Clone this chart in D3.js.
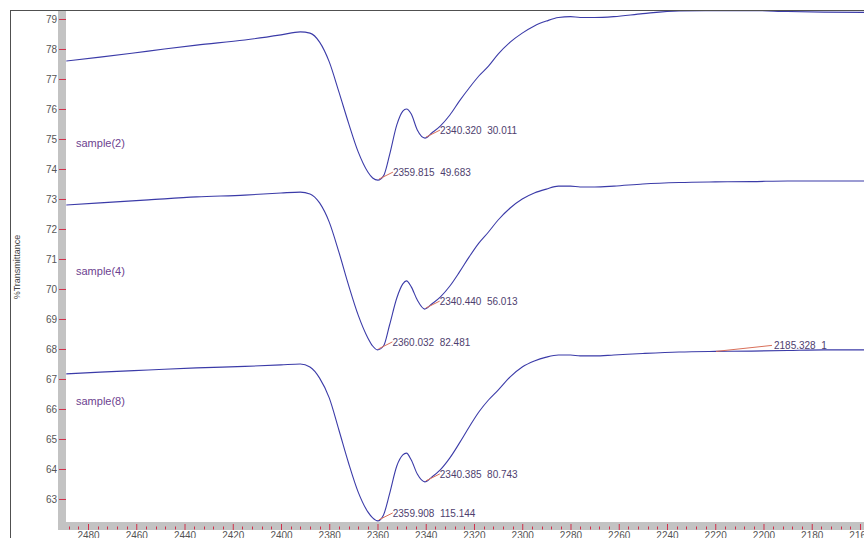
<!DOCTYPE html>
<html>
<head>
<meta charset="utf-8">
<script src="https://cdn.jsdelivr.net/npm/d3@7/dist/d3.min.js"></script>
<style>
  html, body { margin: 0; padding: 0; background: #fff; }
  svg { display: block; font-family: "Liberation Sans", Arial, sans-serif; }
  .note { white-space: pre; }
</style>
</head>
<body>
<svg id="chart" width="864" height="538"></svg>
<script>
// Wavenumber grid (cm-1) shared by the three spectra
const wavenumbers = [2489, 2475, 2455, 2435, 2415, 2400, 2392, 2388, 2384, 2380, 2376, 2372, 2368, 2364, 2362,
  2357.5, 2355, 2352, 2349.5, 2348, 2346, 2343.5,
  2337.5, 2334, 2330, 2326, 2322, 2318, 2314, 2310, 2305, 2300, 2295, 2290, 2285, 2280, 2276, 2270, 2262,
  2250, 2235, 2220, 2205, 2190, 2175, 2158];

// %Transmittance of each sample on that grid
const sample2 = [77.60, 77.73, 77.93, 78.13, 78.30, 78.47, 78.57, 78.53, 78.23, 77.57, 76.57, 75.53, 74.57, 73.90, 73.70,
  73.77, 74.47, 75.47, 75.93, 76.00, 75.83, 75.30,
  75.20, 75.43, 75.80, 76.27, 76.70, 77.10, 77.43, 77.83, 78.23, 78.53, 78.77, 78.93, 79.05, 79.08, 79.05, 79.05, 79.08,
  79.18, 79.27, 79.28, 79.28, 79.25, 79.23, 79.22];
const sample4 = [72.80, 72.87, 72.97, 73.07, 73.13, 73.20, 73.23, 73.17, 72.87, 72.23, 71.23, 70.13, 69.13, 68.37, 68.10,
  68.10, 68.80, 69.70, 70.17, 70.27, 70.07, 69.63,
  69.50, 69.73, 70.10, 70.57, 71.07, 71.53, 71.90, 72.30, 72.70, 73.00, 73.20, 73.33, 73.43, 73.43, 73.40, 73.40, 73.43,
  73.50, 73.55, 73.57, 73.58, 73.60, 73.60, 73.60];
const sample8 = [67.17, 67.23, 67.30, 67.37, 67.42, 67.47, 67.50, 67.40, 67.03, 66.37, 65.30, 64.20, 63.23, 62.57, 62.37,
  62.47, 63.17, 64.10, 64.47, 64.53, 64.30, 63.83,
  63.73, 63.97, 64.37, 64.87, 65.40, 65.90, 66.30, 66.63, 67.07, 67.40, 67.60, 67.73, 67.80, 67.80, 67.77, 67.77, 67.80,
  67.85, 67.90, 67.92, 67.93, 67.95, 67.97, 67.97];

// Picked peaks: position (cm-1), %T at the peak, and the reported intensity
const peaks2 = [[2359.815, 73.63, "49.683"], [2340.320, 75.03, "30.011"]];
const peaks4 = [[2360.032, 67.97, "82.481"], [2340.440, 69.33, "56.013"]];
const peaks8 = [[2359.908, 62.27, "115.144"], [2340.385, 63.57, "80.743"]];

const sampleNames = ["sample(2)", "sample(4)", "sample(8)"];
const sampleNameLevels = [74.87, 70.60, 66.27];

// Extra pick near the right end of the window
const extraPick = [2219.7, 67.92, "2185.328  1"];

const xTicks = d3.range(2480, 2150, -20);
const yTicks = d3.range(63, 80, 1);

const W = 864, H = 538;
const plot = { left: 66, top: 10, bottom: 522, right: 864 };

const svg = d3.select("#chart");

const x = d3.scaleLinear().domain([2489.12, 2158.34]).range([plot.left, plot.right]);
const y = d3.scaleLinear().domain([62.2333, 79.3]).range([plot.bottom, plot.top]);

// outer frame
svg.append("line").attr("x1", 10).attr("x2", W).attr("y1", 10.5).attr("y2", 10.5)
  .attr("stroke", "#505050").attr("stroke-width", 1);
svg.append("line").attr("x1", 10.5).attr("x2", 10.5).attr("y1", 10).attr("y2", H)
  .attr("stroke", "#505050").attr("stroke-width", 1);

// grey axis bands
svg.append("rect").attr("x", 58).attr("y", 11).attr("width", 8).attr("height", 519).attr("fill", "#c3c3c3");
svg.append("rect").attr("x", 58).attr("y", 522).attr("width", W - 58).attr("height", 8).attr("fill", "#c3c3c3");

// y axis
const yAxis = svg.append("g").attr("transform", `translate(${plot.left},0)`)
  .call(d3.axisLeft(y).tickValues(yTicks).tickFormat(d3.format("d")).tickSize(7).tickPadding(2));
yAxis.select(".domain").remove();
yAxis.selectAll(".tick line").attr("stroke", "#d0304a").attr("stroke-width", 1);
yAxis.selectAll(".tick text").attr("fill", "#555").attr("font-size", 10)
  .attr("font-family", "Liberation Sans, Arial, sans-serif");

// x axis minor ticks
const minor = d3.range(2488, 2150, -4).filter(v => v % 20 !== 0);
svg.append("g").selectAll("line").data(minor).join("line")
  .attr("x1", d => Math.round(x(d)) + 0.5).attr("x2", d => Math.round(x(d)) + 0.5)
  .attr("y1", 526.5).attr("y2", 529.5)
  .attr("stroke", "#d0304a").attr("stroke-width", 1);

// x axis major ticks and labels
const xAxis = svg.append("g").attr("transform", "translate(0,530)")
  .call(d3.axisBottom(x).tickValues(xTicks).tickFormat(d3.format("d")).tickSize(-6).tickPadding(2));
xAxis.select(".domain").remove();
xAxis.selectAll(".tick line").attr("stroke", "#d0304a").attr("stroke-width", 1);
xAxis.selectAll(".tick text").attr("fill", "#555").attr("font-size", 10)
  .attr("font-family", "Liberation Sans, Arial, sans-serif");

// y axis title
svg.append("text")
  .attr("transform", "translate(20,267) rotate(-90)")
  .attr("text-anchor", "middle")
  .attr("font-size", 9).attr("fill", "#444")
  .text("%Transmittance");

// clip for the spectra
svg.append("clipPath").attr("id", "plotClip").append("rect")
  .attr("x", plot.left).attr("y", plot.top + 1).attr("width", plot.right - plot.left).attr("height", plot.bottom - plot.top - 1);

const line = d3.line().x(d => x(d[0])).y(d => y(d[1])).curve(d3.curveMonotoneX);

const series = [[sample2, peaks2], [sample4, peaks4], [sample8, peaks8]];
const g = svg.append("g").attr("clip-path", "url(#plotClip)");

series.forEach(([vals, pk], i) => {
  const pts = wavenumbers.map((w, j) => [w, vals[j]])
    .concat(pk.map(p => [p[0], p[1]]))
    .sort((a, b) => b[0] - a[0]);
  g.append("path").datum(pts).attr("d", line)
    .attr("fill", "none").attr("stroke", "#3b3ba8").attr("stroke-width", 1.1);

  // series name
  svg.append("text").attr("x", 76).attr("y", y(sampleNameLevels[i]) + 4)
    .attr("font-size", 11).attr("fill", "#6d3f8f").text(sampleNames[i]);

  // peak annotations
  pk.forEach(p => {
    const px = x(p[0]), py = y(p[1]);
    svg.append("line").attr("x1", px + 1).attr("y1", py - 1).attr("x2", px + 15).attr("y2", py - 8)
      .attr("stroke", "#d9705a").attr("stroke-width", 1);
    svg.append("text").attr("class", "note").attr("x", px + 15).attr("y", py - 4)
      .attr("font-size", 10).attr("fill", "#4e3e6e")
      .text(p[0].toFixed(3) + "  " + p[2]);
  });
});

// extra pick label near the right edge
{
  const px = x(extraPick[0]), py = y(extraPick[1]);
  svg.append("line").attr("x1", px).attr("y1", py).attr("x2", px + 56).attr("y2", py - 6)
    .attr("stroke", "#d9705a").attr("stroke-width", 1);
  svg.append("text").attr("class", "note").attr("x", px + 58).attr("y", py - 2)
    .attr("font-size", 10).attr("fill", "#4e3e6e").text(extraPick[2]);
}
</script>
</body>
</html>
